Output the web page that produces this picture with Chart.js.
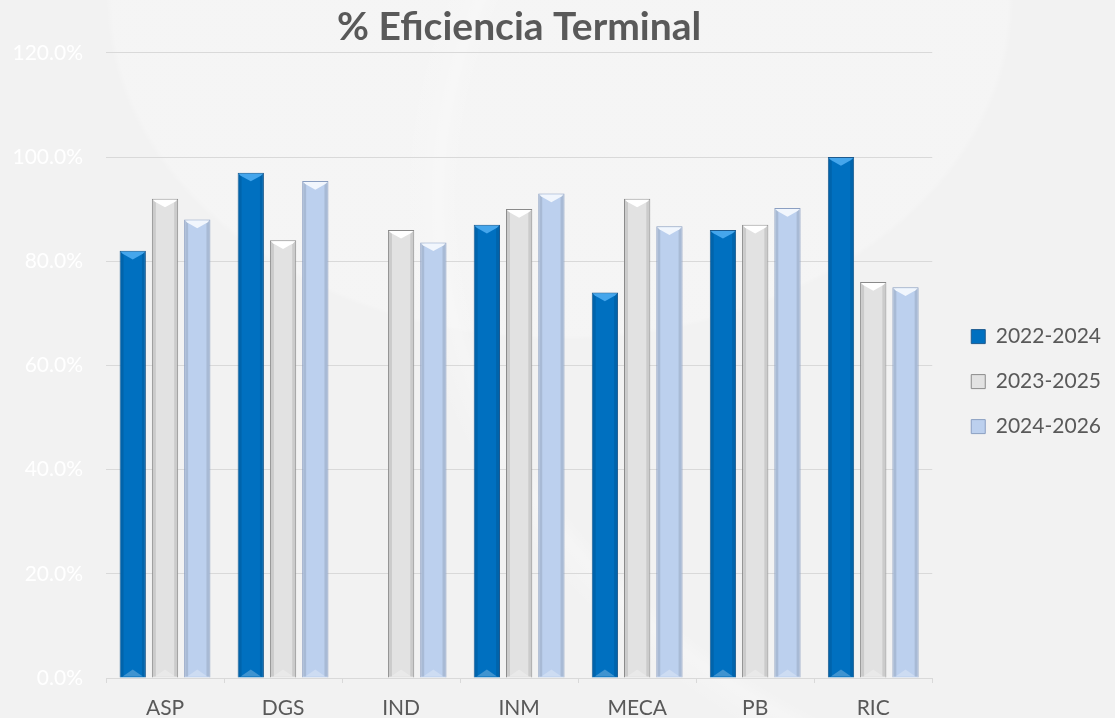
<!DOCTYPE html>
<html>
<head>
<meta charset="utf-8">
<script src="https://cdn.jsdelivr.net/npm/chart.js@4.4.0/dist/chart.umd.min.js"></script>
<style>
	html, body {
		margin: 0;
		padding: 0;
	}
	body {
		width: 1115px;
		height: 718px;
		overflow: hidden;
		background: #f2f2f2;
		background-image:
			radial-gradient(ellipse 560px 420px at 560px 0px, rgba(255,255,255,0.22) 80%, rgba(255,255,255,0) 81%),
			radial-gradient(ellipse 900px 700px at 1250px 200px, rgba(255,255,255,0) 88%, rgba(255,255,255,0.25) 90%, rgba(255,255,255,0) 94%);
	}
	#wrap {
		position: relative;
		width: 1115px;
		height: 718px;
	}
</style>
</head>
<body>
<div id="wrap"><canvas id="chartCanvas" width="1115" height="718"></canvas></div>
<script>
const categories = ['ASP', 'DGS', 'IND', 'INM', 'MECA', 'PB', 'RIC']
const seriesNames = ['2022-2024', '2023-2025', '2024-2026']
const values2022 = [82, 97, null, 87, 74, 86, 100]
const values2023 = [92, 84, 86, 90, 92, 87, 76]
const values2024 = [88, 95.4, 83.6, 93, 86.7, 90.2, 75]
const yTicks = [0, 20, 40, 60, 80, 100, 120]

const fills = ['#0070c0', '#e2e2e2', '#bcd0ee']
const borders = ['#1d5a8e', '#8a8a8a', '#8b9fc2']
const highlights = ['#45a6ec', '#ffffff', '#f1f6fd']
const FONT = 'Lato, "Open Sans", sans-serif'

// bevel look: darker side edges and a light chevron at the top of each bar
const bevel = {
	id: 'bevel',
	afterDatasetsDraw(chart) {
		let ctx = chart.ctx
		chart.data.datasets.forEach((ds, i) => {
			let meta = chart.getDatasetMeta(i)
			meta.data.forEach((bar, j) => {
				if (ds.data[j] === null) {
					return
				}
				let w = bar.width
				let l = bar.x - w / 2
				let r = bar.x + w / 2
				let top = bar.y
				let bottom = bar.base
				ctx.save()
				ctx.fillStyle = 'rgba(0,0,0,0.10)'
				ctx.fillRect(l + 1, top + 1, 3, bottom - top - 2)
				ctx.fillRect(r - 4, top + 1, 3, bottom - top - 2)
				ctx.fillStyle = highlights[i]
				ctx.beginPath()
				ctx.moveTo(l + 1, top + 1)
				ctx.lineTo(r - 1, top + 1)
				ctx.lineTo(r - 3, top + 3)
				ctx.lineTo(bar.x, top + w * 0.33)
				ctx.lineTo(l + 3, top + 3)
				ctx.closePath()
				ctx.fill()
				ctx.fillStyle = 'rgba(255,255,255,0.25)'
				ctx.beginPath()
				ctx.moveTo(l + 3, bottom - 1)
				ctx.lineTo(r - 3, bottom - 1)
				ctx.lineTo(bar.x, bottom - w * 0.3)
				ctx.closePath()
				ctx.fill()
				ctx.restore()
			})
		})
	}
}

const datasets = [values2022, values2023, values2024].map((vals, i) => ({
	label: seriesNames[i],
	data: vals,
	backgroundColor: fills[i],
	borderColor: borders[i],
	borderWidth: 1,
	categoryPercentage: 0.82,
	barPercentage: 0.815,
}))

new Chart(document.getElementById('chartCanvas'), {
	type: 'bar',
	data: {
		labels: categories,
		datasets: datasets,
	},
	plugins: [bevel],
	options: {
		responsive: false,
		animation: false,
		devicePixelRatio: 1,
		layout: {
			padding: { left: 13, right: 4, top: 0, bottom: 0 },
		},
		plugins: {
			title: {
				display: true,
				text: '% Eficiencia Terminal',
				fullSize: false,
				color: '#595959',
				font: { family: FONT, size: 39, weight: 'bold' },
				padding: { top: 4, bottom: 2 },
			},
			legend: {
				position: 'right',
				align: 'center',
				// blank title, pushes the items a bit lower
				title: {
					display: true,
					text: ' ',
					font: { size: 11 },
					padding: { top: 16, bottom: 16 },
				},
				labels: {
					color: '#595959',
					font: { family: FONT, size: 21 },
					boxWidth: 14,
					boxHeight: 14,
					padding: 24,
				},
			},
			tooltip: { enabled: false },
		},
		scales: {
			x: {
				grid: {
					offset: true,
					drawOnChartArea: false,
					drawTicks: true,
					tickLength: 5,
					color: '#d9d9d9',
				},
				border: { color: '#d9d9d9', width: 1 },
				ticks: {
					color: '#595959',
					font: { family: FONT, size: 21 },
					padding: 13,
					maxRotation: 0,
				},
				afterFit: (scale) => {
					scale.height = 40
				},
			},
			y: {
				min: 0,
				max: 120,
				afterBuildTicks: (axis) => {
					axis.ticks = yTicks.map(v => ({ value: v }))
				},
				grid: {
					color: '#d9d9d9',
					drawTicks: false,
				},
				border: { display: false },
				ticks: {
					color: '#ffffff',
					font: { family: FONT, size: 21 },
					padding: 23,
					callback: (v) => v.toFixed(1) + '%',
				},
				afterFit: (scale) => {
					scale.width = 93
				},
			},
			// empty axis, only keeps a gap between the plot and the legend
			gap: {
				type: 'linear',
				position: 'right',
				grid: { display: false },
				border: { display: false },
				ticks: { display: false },
				afterFit: (scale) => {
					scale.width = 15
				},
			},
		},
	},
})
</script>
</body>
</html>
